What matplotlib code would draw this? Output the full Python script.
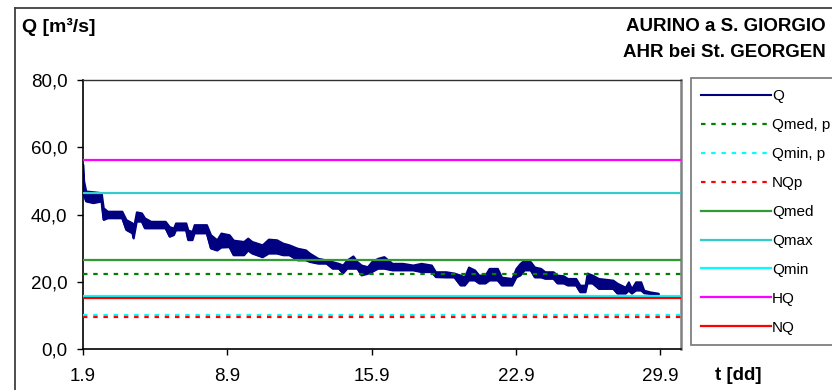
import matplotlib
matplotlib.use("Agg")
import matplotlib.pyplot as plt
from matplotlib.lines import Line2D

plt.rcParams['font.family'] = ['Liberation Sans', 'DejaVu Sans']

# Discharge Q, September: envelope of the 15-min series (days after 1.9)
q_days = [0.00, 0.05, 0.15, 0.5, 0.9, 1.0, 1.2, 1.9, 2.1, 2.4, 2.45, 2.6, 2.85, 3.0,
          3.3, 4.0, 4.2, 4.4, 4.5, 5.0, 5.1, 5.3, 5.4, 6.0, 6.2, 6.5, 6.7, 7.1,
          7.3, 7.8, 8.0, 8.2, 8.7, 9.0, 9.4, 9.7, 10.0, 10.4, 10.8, 11.0, 11.4, 11.8,
          12.1, 12.4, 12.6, 12.8, 13.1, 13.3, 13.5, 13.8, 14.0, 14.3, 14.6, 15.0, 15.5,
          16.0, 16.4, 16.9, 17.1, 17.6, 18.0, 18.3, 18.5, 18.7, 19.0, 19.2, 19.5, 19.7,
          20.1, 20.3, 20.8, 21.0, 21.2, 21.4, 21.7, 21.9, 22.2, 22.4, 22.8, 23.0, 23.3,
          23.5, 23.9, 24.1, 24.35, 24.45, 24.7, 25.0, 25.7, 25.9, 26.3, 26.45, 26.6,
          26.8, 27.05, 27.2, 27.5, 27.9]
q_low = [52, 46, 44, 43.5, 44, 38.5, 39, 39, 35.5, 34.5, 33, 38, 38, 36,
         36, 36, 33.5, 34, 35.4, 35.4, 32.5, 32.5, 34.5, 34.5, 30, 29.4, 30.3, 30.4,
         28, 28, 29.4, 28.5, 27.4, 28.5, 28.5, 28, 28, 26.5, 26.5, 26, 25.5, 25.5,
         24, 24, 22.6, 24, 24, 24, 22, 22.5, 23, 24, 24, 23.5, 23.5,
         23.5, 23, 23, 21.5, 21.4, 21.4, 19, 19, 20.5, 20.5, 19.6, 19.6, 20.5,
         20.5, 19, 19, 21.4, 22, 23.5, 23.5, 21.4, 21.4, 21, 21, 19.6, 19.6,
         19, 19, 17, 17, 19.6, 19.6, 18, 18, 16.6, 16.6, 17.5, 16.6,
         17.5, 17.5, 16.7, 16.5, 16.2]
q_high = [55, 50, 47, 46.8, 46.5, 42, 41, 41, 38.5, 37.5, 36, 40.8, 40.5, 39,
          38, 38, 36.4, 36, 37.5, 37.5, 35.4, 35, 37, 37, 34, 32.5, 34.5, 34,
          32.4, 32, 33, 32, 31, 32.7, 32.5, 31.5, 31, 30, 29.5, 28.5, 27, 26.5,
          26, 25.5, 25, 26.5, 27.7, 26, 25, 24.5, 26, 27, 27.5, 25.5, 25.5,
          25, 25.5, 25, 23, 23, 22.6, 22, 21.5, 24.4, 23.5, 22, 22, 24,
          24, 21.4, 21, 24, 25.5, 26.5, 26, 24.4, 24, 23, 23, 22, 21.8,
          21, 21, 19, 19, 22.6, 22, 21, 20.5, 19.6, 18.4, 20, 18,
          20, 20, 17.5, 17, 16.6]

# Reference discharges [m3/s]
ref_labels = ["Qmed, p", "Qmin, p", "NQp", "Qmed", "Qmax", "Qmin", "HQ", "NQ"]
ref_values = [22.3, 10.1, 9.6, 26.5, 46.5, 15.8, 56.2, 15.3]
ref_colors = ["#008000", "#00FFFF", "#FF0000", "#339933", "#33CCCC", "#00FFFF", "#FF00FF", "#FF0000"]
ref_dotted = [True, True, True, False, False, False, False, False]

x_ticks = [0, 7, 14, 21, 28]
x_ticklabels = ["1.9", "8.9", "15.9", "22.9", "29.9"]
y_ticks = [0, 20, 40, 60, 80]
y_ticklabels = ["0,0", "20,0", "40,0", "60,0", "80,0"]

W, H = 832, 390
fig = plt.figure(figsize=(W / 100, H / 100), dpi=100)

# outer chart frame (top and left edges visible)
fig.add_artist(Line2D([15 / W, 1.02], [1 - 8 / H, 1 - 8 / H], transform=fig.transFigure,
                      color="#404040", lw=1.3))
fig.add_artist(Line2D([15 / W, 15 / W], [1 - 8 / H, -0.02], transform=fig.transFigure,
                      color="#404040", lw=1.3))

l, r, t, b = 82.7, 681, 80, 349
ax = fig.add_axes([l / W, 1 - b / H, (r - l) / W, (b - t) / H])

ax.fill_between(q_days, q_low, q_high, color="#000080", lw=1.4, zorder=2)
ax.plot(q_days, q_low, color="#000080", lw=1.2, zorder=2)

handles = [Line2D([], [], color="#000080", lw=1.5)]
for lab, val, col, dot in zip(ref_labels, ref_values, ref_colors, ref_dotted):
    if dot:
        ax.axhline(val, color=col, lw=1.6, ls=(0, (2.0, 2.6)), zorder=3)
        handles.append(Line2D([], [], color=col, lw=1.6, ls=(0, (2.0, 2.6))))
    else:
        ax.axhline(val, color=col, lw=1.6, zorder=3)
        handles.append(Line2D([], [], color=col, lw=1.6))

ax.set_xlim(0, 29)
ax.set_ylim(0, 80)
ax.set_xticks(x_ticks)
ax.set_xticklabels(x_ticklabels)
ax.set_yticks(y_ticks)
ax.set_yticklabels(y_ticklabels)
ax.tick_params(axis="both", direction="out", length=4, width=1, labelsize=13.5, colors="black")
ax.tick_params(axis="x", pad=10)
ax.tick_params(axis="y", pad=7)
for side in ("left", "bottom"):
    ax.spines[side].set_color("black")
    ax.spines[side].set_linewidth(1.2)
ax.spines["top"].set_color("#303030")
ax.spines["top"].set_linewidth(1.0)
ax.spines["right"].set_color("#808080")
ax.spines["right"].set_linewidth(1.8)

leg = fig.legend(handles, ["Q"] + ref_labels, loc="upper left",
                 bbox_to_anchor=(690.5 / W, 1 - 78.3 / H), frameon=True,
                 fontsize=11, handlelength=4.6, handletextpad=0.05,
                 labelspacing=0.98, borderpad=0.7, borderaxespad=0,
                 fancybox=False)
leg.get_frame().set_edgecolor("#606060")
leg.get_frame().set_linewidth(1.3)

fig.text(22 / W, 1 - 32 / H, "Q [m³/s]", fontsize=14, fontweight="bold", ha="left", va="baseline")
fig.text(826 / W, 1 - 31 / H, "AURINO a S. GIORGIO", fontsize=13.5, fontweight="bold",
         ha="right", va="baseline")
fig.text(826 / W, 1 - 57 / H, "AHR bei St. GEORGEN", fontsize=13.5, fontweight="bold",
         ha="right", va="baseline")
fig.text(715 / W, 1 - 376 / H, "t [dd]", fontsize=13.5, fontweight="bold", ha="left", va="center")

fig.savefig("out.png", dpi=100)
